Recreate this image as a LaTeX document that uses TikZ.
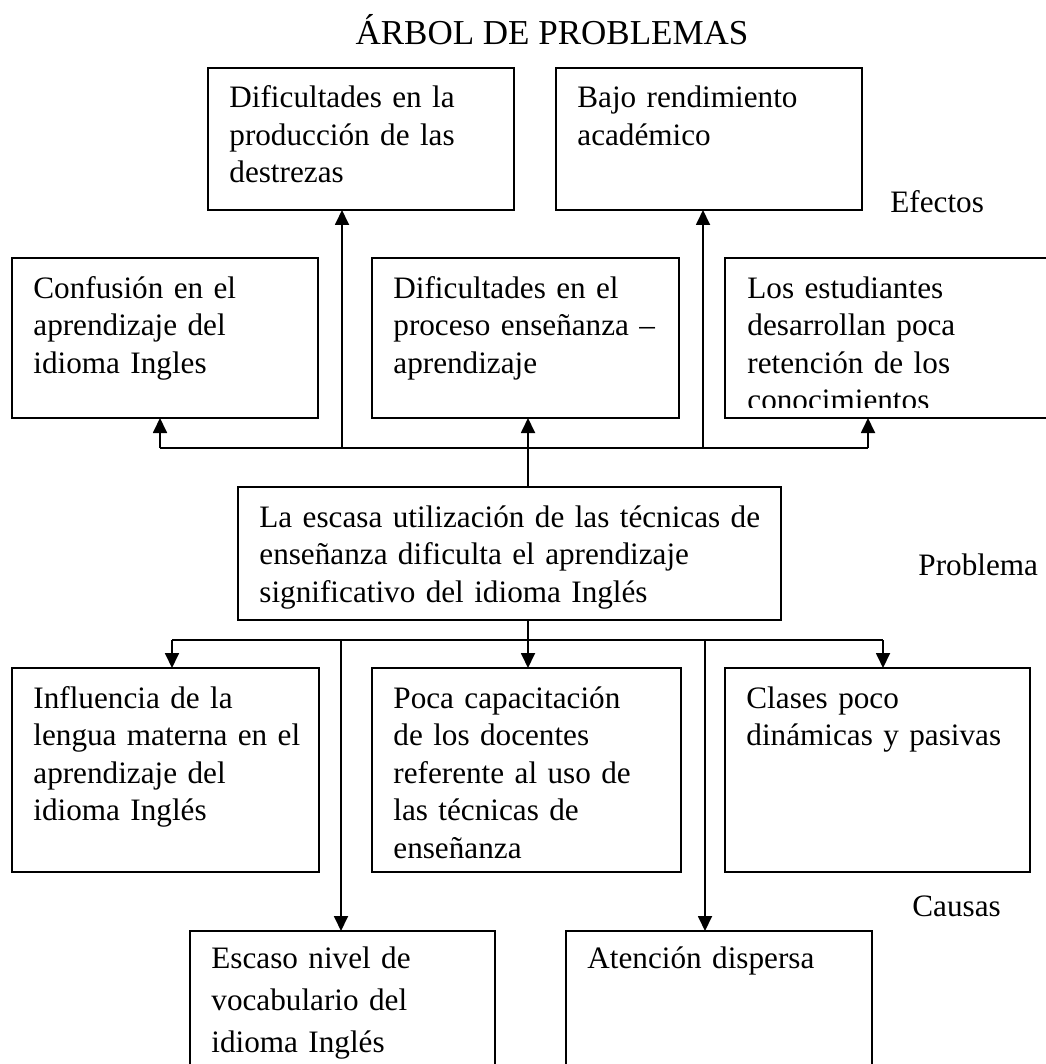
\documentclass[tikz,border=0pt]{standalone}
\usepackage{fontspec}
\setmainfont{Liberation Serif}
\usetikzlibrary{arrows.meta}

\begin{document}
\begin{tikzpicture}[x=0.5pt,y=-0.5pt,
    font=\fontsize{15.6pt}{18.75pt}\selectfont,
    caja/.style={draw,line width=0.9pt,anchor=north west,inner sep=0pt,outer sep=0pt},
    texto/.style={anchor=base west,inner sep=0pt,text width=280pt,align=left},
    rotulo/.style={anchor=base west,inner sep=0pt},
    linea/.style={line width=0.9pt},
    flecha/.style={line width=0.9pt,-{Triangle[length=7.5pt,width=7pt]}}]
    \useasboundingbox (0,0) rectangle (1045,1064);

    \node at (552,45) [anchor=base,inner sep=0pt,font=\fontsize{17.5pt}{20pt}\selectfont] (titulo) {ÁRBOL DE PROBLEMAS};

    % efectos
    \node at (208,68) [caja,minimum width=153pt,minimum height=71pt] (dp) {};
    \node at (229,108) [texto] (dp-t) {Dificultades en la\\producción de las\\destrezas};
    \node at (556,68) [caja,minimum width=153pt,minimum height=71pt] (br) {};
    \node at (577,108) [texto] (br-t) {Bajo rendimiento\\académico};
    \node at (890,213) [rotulo] (efectos) {Efectos};

    \node at (12,258) [caja,minimum width=153pt,minimum height=80pt] (cf) {};
    \node at (33,298) [texto] (cf-t) {Confusión en el\\aprendizaje del\\idioma Ingles};
    \node at (372,258) [caja,minimum width=153.5pt,minimum height=80pt] (dpe) {};
    \node at (393,298) [texto] (dpe-t) {Dificultades en el\\proceso enseñanza –\\aprendizaje};
    \node at (725,258) [caja,minimum width=170pt,minimum height=80pt] (le) {};
    \begin{scope}
        \clip (725,258) rectangle (1045,407);
        \node at (747,298) [texto] (le-t) {Los estudiantes\\desarrollan poca\\retención de los\\conocimientos};
    \end{scope}

    % problema
    \node at (238,487) [caja,minimum width=271.5pt,minimum height=66.5pt] (prob) {};
    \node at (259,527) [texto] (prob-t) {La escasa utilización de las técnicas de\\enseñanza dificulta el aprendizaje\\significativo del idioma Inglés};
    \node at (918,575) [rotulo] (problema) {Problema};

    % causas
    \node at (12,668) [caja,minimum width=153.5pt,minimum height=102pt] (inf) {};
    \node at (33,708) [texto] (inf-t) {Influencia de la\\lengua materna en el\\aprendizaje del\\idioma Inglés};
    \node at (372,668) [caja,minimum width=154.5pt,minimum height=102pt] (poca) {};
    \node at (393,708) [texto] (poca-t) {Poca capacitación\\de los docentes\\referente al uso de\\las técnicas de\\enseñanza};
    \node at (725,668) [caja,minimum width=152.5pt,minimum height=102pt] (clases) {};
    \node at (746,708) [texto] (clases-t) {Clases poco\\dinámicas y pasivas};
    \node at (912,916) [rotulo] (causas) {Causas};

    \node at (190,931) [caja,minimum width=152.5pt,minimum height=100pt] (esc) {};
    \node at (211,968) [texto,font=\fontsize{15.6pt}{21pt}\selectfont] (esc-t) {Escaso nivel de\\vocabulario del\\idioma Inglés};
    \node at (566,931) [caja,minimum width=153pt,minimum height=100pt] (ate) {};
    \node at (587,968) [texto] (ate-t) {Atención dispersa};

    % conectores hacia los efectos
    \coordinate (e1) at (160,448);
    \coordinate (e2) at (342,448);
    \coordinate (e3) at (528,448);
    \coordinate (e4) at (703,448);
    \coordinate (e5) at (868,448);
    \draw[linea] (e1) -- (e5);
    \draw[flecha] (e1) -- (e1 |- cf.south);
    \draw[flecha] (e2) -- (e2 |- dp.south);
    \draw[flecha] (e3 |- prob.north) -- (e3 |- dpe.south);
    \draw[flecha] (e4) -- (e4 |- br.south);
    \draw[flecha] (e5) -- (e5 |- le.south);

    % conectores hacia las causas
    \coordinate (c1) at (172,640);
    \coordinate (c2) at (341,640);
    \coordinate (c3) at (528,640);
    \coordinate (c4) at (705,640);
    \coordinate (c5) at (883,640);
    \draw[linea] (c3 |- prob.south) -- (c3);
    \draw[linea] (c1) -- (c5);
    \draw[flecha] (c1) -- (c1 |- inf.north);
    \draw[flecha] (c3) -- (c3 |- poca.north);
    \draw[flecha] (c5) -- (c5 |- clases.north);
    \draw[flecha] (c2) -- (c2 |- esc.north);
    \draw[flecha] (c4) -- (c4 |- ate.north);
\end{tikzpicture}
\end{document}
